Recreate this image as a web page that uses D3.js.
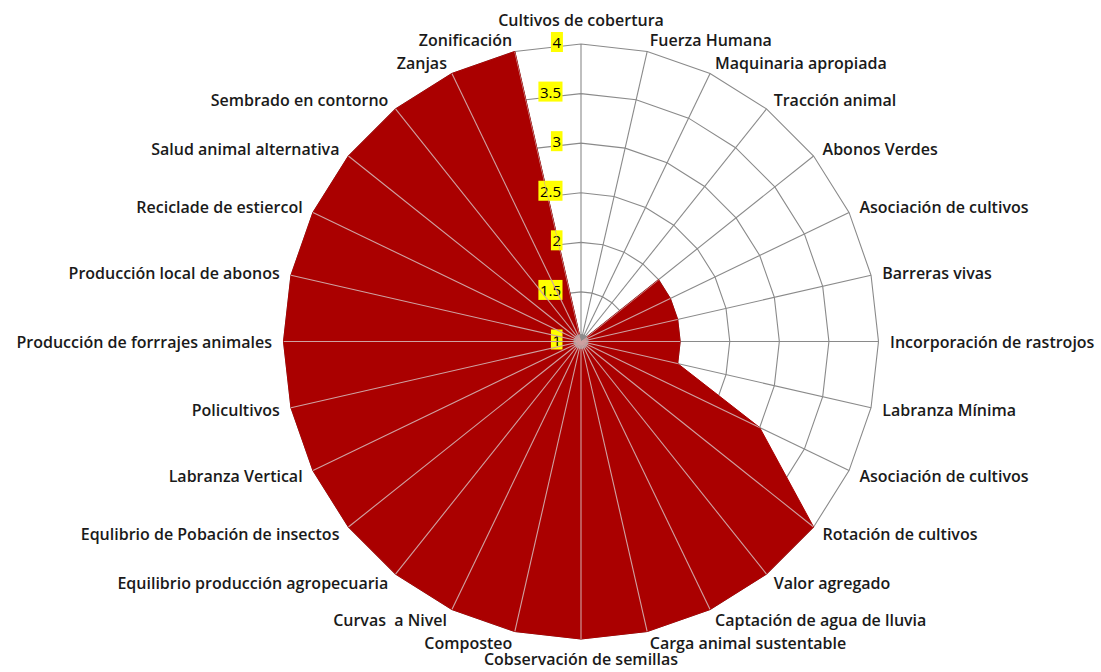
<!DOCTYPE html>
<html><head><meta charset="utf-8">
<script src="https://cdn.jsdelivr.net/npm/d3@7"></script>
<style>body{margin:0;background:#fff;} svg{display:block;}</style>
</head><body>
<svg id="chart" width="1101" height="672"></svg>
<script>
const categories = ["Cultivos de cobertura","Fuerza Humana","Maquinaria apropiada","Tracción animal","Abonos Verdes","Asociación de cultivos","Barreras vivas","Incorporación de rastrojos","Labranza Mínima","Asociación de cultivos","Rotación de cultivos","Valor agregado","Captación de agua de lluvia","Carga animal sustentable","Cobservación de semillas","Composteo","Curvas  a Nivel","Equilibrio producción agropecuaria","Equlibrio de Pobación de insectos","Labranza Vertical","Policultivos","Producción de forrrajes animales","Producción local de abonos","Reciclade de estiercol","Salud animal alternativa","Sembrado en contorno","Zanjas","Zonificación"];
const values = [1,1,1,1,2,2,2,2,2,3,4,4,4,4,4,4,4,4,4,4,4,4,4,4,4,4,4,4];
const tickValues = [1,1.5,2,2.5,3,3.5,4];
const tickLabels = ["1","1.5","2","2.5","3","3.5","4"];

const cx = 581, cy = 341.5, R = 297.5;
const N = categories.length;
const svg = d3.select("#chart");
const g = svg.append("g").attr("transform", `translate(${cx},${cy})`);
const r = d3.scaleLinear().domain([1,4]).range([0,R]);
const ang = i => i * 2 * Math.PI / N;
const idx = d3.range(N);

const gridColor = "#8a8a8a";
const ringLine = d3.lineRadial().angle(i => ang(i)).curve(d3.curveLinearClosed);
tickValues.slice(1).forEach(t => {
  g.append("path").attr("d", ringLine.radius(() => r(t))(idx))
    .attr("fill","none").attr("stroke",gridColor).attr("stroke-width",1.1);
});
idx.forEach(i => {
  const a = ang(i);
  g.append("line").attr("x1",0).attr("y1",0)
    .attr("x2", r(4)*Math.sin(a)).attr("y2", -r(4)*Math.cos(a))
    .attr("stroke",gridColor).attr("stroke-width",1.1);
});
const areaLine = d3.lineRadial().angle((d,i) => ang(i)).radius(d => r(d)).curve(d3.curveLinearClosed);
const areaD = areaLine(values);
g.append("path").attr("d", areaD).attr("fill","#aa0000").attr("stroke","#aa0000").attr("stroke-width",1);
svg.append("clipPath").attr("id","areaClip").append("path").attr("d", areaD).attr("transform",`translate(${cx},${cy})`);
const over = svg.append("g").attr("clip-path","url(#areaClip)").append("g").attr("transform", `translate(${cx},${cy})`);
idx.forEach(i => {
  const a = ang(i);
  over.append("line").attr("x1",0).attr("y1",0)
    .attr("x2", r(4)*Math.sin(a)).attr("y2", -r(4)*Math.cos(a))
    .attr("stroke","#cfa2a2").attr("stroke-width",1.1);
});
g.append("circle").attr("r",7.5).attr("fill","#8c8c8c");

const font = "'Open Sans', Lato, sans-serif";
tickValues.forEach((t,k) => {
  const y = -r(t) - 2;
  const tg = g.append("g");
  const txt = tg.append("text").attr("x",-20).attr("y",y).attr("text-anchor","end")
    .attr("dominant-baseline","central").attr("font-family",font).attr("font-size",15)
    .attr("fill","#000").text(tickLabels[k]);
  const bb = txt.node().getBBox();
  tg.insert("rect","text").attr("x",bb.x-1.5).attr("y",bb.y).attr("width",bb.width+3).attr("height",bb.height)
    .attr("fill","#ffff00");
});

categories.forEach((c,i) => {
  const a = ang(i), s = Math.sin(a), co = Math.cos(a);
  const d = 301;
  let x = d*s + s*8, y = -d*co - co*8;
  let anchor = "middle";
  if (s > 0.01) anchor = "start"; else if (s < -0.01) anchor = "end";
  if (Math.abs(s) <= 0.01) y = -d*co - co*(co > 0 ? 21 : 16);
  g.append("text").attr("x",x).attr("y",y).attr("text-anchor",anchor)
    .attr("dominant-baseline","central").attr("font-family",font).attr("font-weight",600)
    .attr("font-size",16).attr("fill","#1a1a1a").style("white-space","pre").text(c);
});
</script>
</body></html>
